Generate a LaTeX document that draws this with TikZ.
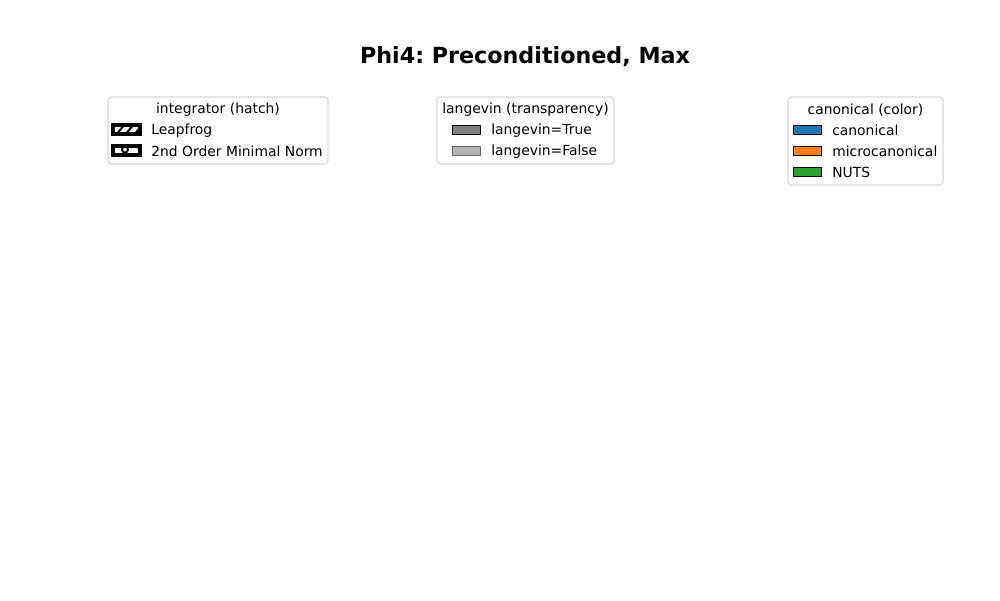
\documentclass[tikz,border=0pt]{standalone}
\usepackage{fontspec}
\setmainfont{DejaVu Sans}
\frenchspacing
\definecolor{tabblue}{HTML}{1F77B4}
\definecolor{taborange}{HTML}{FF7F0E}
\definecolor{tabgreen}{HTML}{2CA02C}
\definecolor{framegray}{HTML}{D9D9D9}
\tikzset{
	legendframe/.style={draw=framegray, line width=0.8pt, rounded corners=2.5pt, fill=white},
	legendtitle/.style={font=\fontsize{10}{12}\selectfont, inner sep=0pt, anchor=center},
	entrytext/.style={font=\fontsize{10}{12}\selectfont, inner sep=0pt, anchor=west},
	swatch/.style={draw=black, line width=0.6pt}
}
\begin{document}
\begin{tikzpicture}[x=0.72pt, y=-0.72pt]
		\useasboundingbox (0,0) rectangle (1000,600);

		\node[font=\fontsize{16}{19}\selectfont\bfseries, inner sep=0pt] (title) at (525,56.5) {Phi4: Preconditioned, Max};

		% integrator (hatch)
		\draw[legendframe] (108,97) rectangle (328,164);
		\node[legendtitle] (inttitle) at (218,110) {integrator (hatch)};
		\begin{scope}
			\clip (113,125) rectangle (140,134);
			\foreach \x in {106,115,124,133,142}
				\draw[line width=1.4pt] (\x,136) -- (\x+11,123);
		\end{scope}
		\draw[line width=2.2pt] (113,125) rectangle (140,134);
		\node[entrytext] (leapfrog) at (151,130.5) {Leapfrog};
		\begin{scope}
			\clip (113,146) rectangle (140,155);
			\draw[line width=1.4pt] (125,149.5) circle (3);
			\draw[line width=1.4pt] (139,145) circle (3);
		\end{scope}
		\draw[line width=2.2pt] (113,146) rectangle (140,155);
		\node[entrytext] (minnorm) at (151,151.5) {2nd Order Minimal Norm};

		% langevin (transparency)
		\draw[legendframe] (437,97) rectangle (614,164);
		\node[legendtitle] (langtitle) at (525.5,110) {langevin (transparency)};
		\foreach \y/\c/\e/\t in {125/808080/000000/True,146/B3B3B3/666666/False}
		{
			\definecolor{fc}{HTML}{\c}\definecolor{ec}{HTML}{\e}
			\draw[swatch, fill=fc, draw=ec] (452,\y) rectangle (480,\y+9);
			\node[entrytext] (lang\t) at (491,\y+5.5) {langevin=\t};
		}

		% canonical (color)
		\draw[legendframe] (788,97) rectangle (943,185);
		\node[legendtitle] (cantitle) at (865.5,110) {canonical (color)};
		\foreach \y/\c/\t in {125/tabblue/canonical,146/taborange/microcanonical,167/tabgreen/NUTS}
		{
			\draw[swatch, fill=\c] (793,\y) rectangle (821,\y+9);
			\node[entrytext] (can\t) at (832,\y+5.5) {\t};
		}
	\end{tikzpicture}
\end{document}
